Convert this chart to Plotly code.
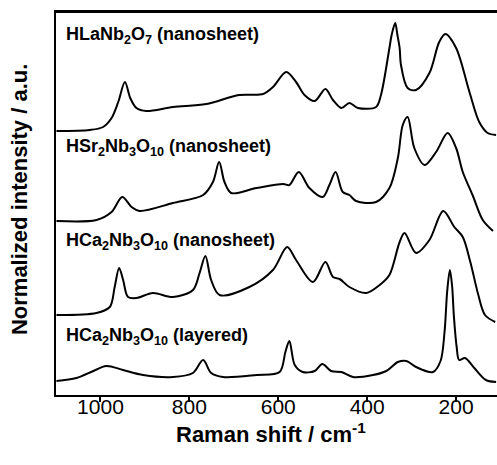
import plotly.graph_objects as go

# Raman shift (cm^-1) and relative intensity (a.u.)
w_la = [1099, 1024, 994, 975, 960, 945, 933, 919, 897, 837, 762, 688, 634, 612, 582, 560,
        541, 518, 494, 477, 458, 440, 421, 380, 369, 350, 345, 337, 332, 327, 324, 309,
        290, 260, 238, 224, 200, 170, 148, 129, 110]
i_la = [0, 1, 4, 13, 29, 49, 33, 23, 20, 24, 27, 36, 37, 44, 59, 49,
        36, 30, 42, 31, 23, 28, 23, 24, 36, 83, 96, 108, 96, 83, 66, 43,
        41, 58, 89, 97, 83, 39, 9, -2, -4]

w_sr = [1099, 1009, 975, 951, 930, 912, 837, 769, 747, 733, 721, 706, 649, 589, 575, 554,
        530, 500, 485, 471, 455, 440, 425, 380, 350, 331, 320, 309, 294, 271, 245, 219,
        200, 185, 163, 140, 117]
i_sr = [0, 1, 9, 24, 14, 10, 18, 26, 39, 59, 39, 28, 33, 37, 36, 49,
        33, 24, 36, 49, 29, 26, 20, 19, 33, 63, 96, 104, 73, 56, 69, 88,
        73, 49, 26, 1, -10]

w_ca = [1099, 1009, 979, 968, 958, 949, 938, 919, 882, 837, 792, 777, 764, 751, 732, 665,
        612, 580, 560, 522, 494, 477, 462, 440, 402, 372, 350, 327, 316, 290, 260, 229,
        204, 185, 168, 150, 135, 112]
i_ca = [0, 2, 8, 28, 47, 35, 18, 17, 22, 18, 25, 42, 59, 35, 20, 28,
        45, 68, 55, 33, 53, 38, 36, 28, 22, 30, 40, 73, 82, 62, 75, 104,
        88, 78, 53, 20, 0, -7]

w_lay = [1099, 1054, 1016, 987, 949, 904, 837, 792, 769, 751, 724, 649, 597, 584, 575, 563,
         545, 518, 501, 481, 458, 432, 387, 357, 331, 312, 290, 252, 235, 226, 220, 214,
         209, 205, 199, 193, 180, 159, 133, 110]
i_lay = [0, 3, 10, 15, 11, 6, 4, 8, 21, 8, 4, 6, 9, 29, 40, 16,
         9, 10, 17, 10, 9, 4, 6, 10, 19, 20, 14, 9, 20, 49, 90, 111,
         95, 65, 35, 21, 23, 13, 1, -1]

offsets = [264, 174, 80, 14]
labels = ["HLaNb<sub>2</sub>O<sub>7</sub> (nanosheet)",
          "HSr<sub>2</sub>Nb<sub>3</sub>O<sub>10</sub> (nanosheet)",
          "HCa<sub>2</sub>Nb<sub>3</sub>O<sub>10</sub> (nanosheet)",
          "HCa<sub>2</sub>Nb<sub>3</sub>O<sub>10</sub> (layered)"]
label_y = [360, 248, 154, 59]
tick_vals = [1000, 800, 600, 400, 200]
x_range = [1100, 108]

series = [(w_la, i_la), (w_sr, i_sr), (w_ca, i_ca), (w_lay, i_lay)]

fig = go.Figure()
for (xs, ys), off in zip(series, offsets):
    fig.add_trace(go.Scatter(
        x=xs, y=[v + off for v in ys], mode="lines",
        line=dict(color="black", width=2, shape="spline", smoothing=0.9),
        showlegend=False, hoverinfo="skip"))

# invisible helper trace so the tick-label axis is drawn
fig.add_trace(go.Scatter(x=tick_vals, y=[0] * len(tick_vals), xaxis="x2", mode="markers",
                         marker=dict(opacity=0), showlegend=False, hoverinfo="skip"))

font = "Liberation Sans, Arial, sans-serif"
for lab, yy in zip(labels, label_y):
    fig.add_annotation(x=1083, y=yy, xref="x", yref="y", text="<b>" + lab + "</b>",
                       showarrow=False, xanchor="left", yanchor="middle",
                       font=dict(family=font, size=18, color="black"))

fig.add_annotation(x=0.4875, y=-0.1, xref="paper", yref="paper",
                   text="<b>Raman shift / cm<sup>-1</sup></b>", showarrow=False,
                   xanchor="center", yanchor="middle",
                   font=dict(family=font, size=22, color="black"))
fig.add_annotation(x=-0.083, y=0.51, xref="paper", yref="paper",
                   text="<b>Normalized intensity / a.u.</b>", showarrow=False,
                   textangle=-90, xanchor="center", yanchor="middle",
                   font=dict(family=font, size=22, color="black"))

# frame line along the top of the plot area
fig.add_shape(type="line", xref="paper", yref="paper", x0=0, x1=1, y0=1, y1=1,
              line=dict(color="black", width=2), layer="above")

fig.update_layout(
    width=497, height=465,
    margin=dict(l=56, r=0, t=12, b=70),
    plot_bgcolor="white", paper_bgcolor="white",
    xaxis=dict(range=x_range, tickvals=tick_vals, ticks="outside", ticklen=5,
               tickwidth=2, tickcolor="black", showline=True, linewidth=2,
               linecolor="black", mirror=True, showgrid=False, zeroline=False,
               showticklabels=False),
    xaxis2=dict(range=x_range, tickvals=tick_vals, overlaying="x", anchor="free",
                position=0.008, side="bottom", ticks="", showline=False,
                showgrid=False, zeroline=False,
                tickfont=dict(family=font, size=21, color="black")),
    yaxis=dict(range=[0, 383], showticklabels=False, ticks="", showline=True,
               linewidth=2, linecolor="black", showgrid=False, zeroline=False),
)

fig.write_html("out.html", config={"displayModeBar": False},
               post_script="document.body.style.margin='0';document.body.style.overflow='hidden';"
                           "window.scrollTo(0,0);")
